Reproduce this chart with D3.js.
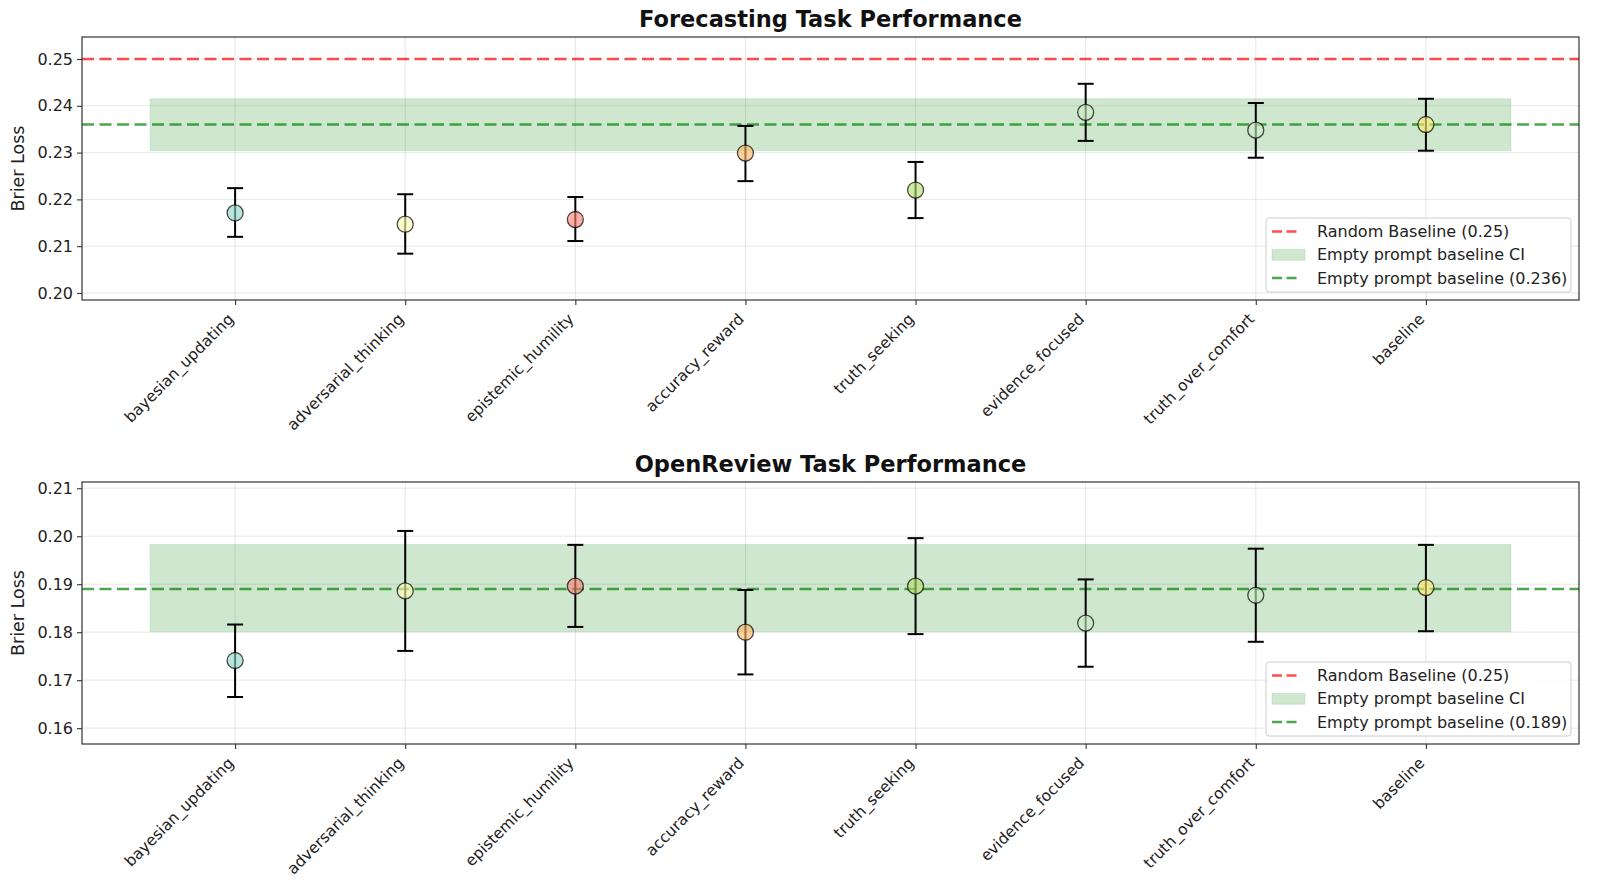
<!DOCTYPE html>
<html>
<head>
<meta charset="utf-8">
<script src="https://cdn.jsdelivr.net/npm/d3@7"></script>
<style>
  body { margin: 0; background: #fff; }
  svg { font-family: "DejaVu Sans", sans-serif; }
</style>
</head>
<body>
<svg id="chart" width="1600" height="884"></svg>
<script>
// strategies, in plotting order
var strategies = ["bayesian_updating", "adversarial_thinking", "epistemic_humility", "accuracy_reward",
                  "truth_seeking", "evidence_focused", "truth_over_comfort", "baseline"];
var pointColors = ["#8dd3c7", "#ffffb3", "#fb8072", "#fdb462", "#b3de69", "#ccebc5", "#ccebc5", "#ffed6f"];

// Forecasting task: mean Brier loss and CI bounds
var forecastMean  = [0.2171, 0.2147, 0.2157, 0.2299, 0.2220, 0.2386, 0.2348, 0.2360];
var forecastLow   = [0.2120, 0.2084, 0.2111, 0.2239, 0.2160, 0.2325, 0.2289, 0.2304];
var forecastHigh  = [0.2224, 0.2211, 0.2205, 0.2357, 0.2280, 0.2447, 0.2406, 0.2415];
var forecastBase  = 0.236, forecastCI = [0.2304, 0.2415];
var forecastTicks = [0.20, 0.21, 0.22, 0.23, 0.24, 0.25];

// OpenReview task
var reviewMean  = [0.1741, 0.1886, 0.1896, 0.1800, 0.1896, 0.1819, 0.1877, 0.1893];
var reviewLow   = [0.1665, 0.1761, 0.1811, 0.1712, 0.1796, 0.1728, 0.1780, 0.1802];
var reviewHigh  = [0.1816, 0.2011, 0.1982, 0.1888, 0.1996, 0.1910, 0.1974, 0.1982];
var reviewBase  = 0.189, reviewCI = [0.1801, 0.1983];
var reviewTicks = [0.16, 0.17, 0.18, 0.19, 0.20, 0.21];

var randomBaseline = 0.25;

var svg = d3.select("#chart");
var left = 82, right = 1579;

function drawPanel(opts) {
  var top = opts.top, bottom = opts.bottom;
  var x = d3.scaleLinear().domain([-0.9, strategies.length - 0.1]).range([left, right]);
  var y = d3.scaleLinear().domain(opts.yDomain).range([bottom, top]);
  var g = svg.append("g");

  g.append("defs").append("clipPath").attr("id", opts.id + "clip")
    .append("rect").attr("x", left).attr("y", top).attr("width", right - left).attr("height", bottom - top);
  var plot = g.append("g").attr("clip-path", "url(#" + opts.id + "clip)");

  // grid
  plot.selectAll(".gy").data(opts.ticks).enter().append("line")
    .attr("x1", left).attr("x2", right)
    .attr("y1", function(d){ return y(d); }).attr("y2", function(d){ return y(d); })
    .attr("stroke", "#b0b0b0").attr("stroke-opacity", 0.3).attr("stroke-width", 1);
  plot.selectAll(".gx").data(strategies).enter().append("line")
    .attr("x1", function(d, i){ return x(i); }).attr("x2", function(d, i){ return x(i); })
    .attr("y1", top).attr("y2", bottom)
    .attr("stroke", "#b0b0b0").attr("stroke-opacity", 0.3).attr("stroke-width", 1);

  // random baseline
  plot.append("line")
    .attr("x1", left).attr("x2", right).attr("y1", y(randomBaseline)).attr("y2", y(randomBaseline))
    .attr("stroke", "red").attr("stroke-opacity", 0.7).attr("stroke-width", 2.5)
    .attr("stroke-dasharray", "12,5.5");

  // empty prompt CI band
  plot.append("rect")
    .attr("x", x(-0.5)).attr("width", x(strategies.length - 0.5) - x(-0.5))
    .attr("y", y(opts.ci[1])).attr("height", y(opts.ci[0]) - y(opts.ci[1]))
    .attr("fill", "green").attr("fill-opacity", 0.19)
    .attr("stroke", "green").attr("stroke-opacity", 0.1);

  // empty prompt baseline
  plot.append("line")
    .attr("x1", left).attr("x2", right).attr("y1", y(opts.base)).attr("y2", y(opts.base))
    .attr("stroke", "green").attr("stroke-opacity", 0.7).attr("stroke-width", 2.5)
    .attr("stroke-dasharray", "12,5.5");

  // error bars
  var eb = plot.selectAll(".eb").data(strategies).enter().append("g");
  eb.append("line")
    .attr("x1", function(d, i){ return x(i); }).attr("x2", function(d, i){ return x(i); })
    .attr("y1", function(d, i){ return y(opts.low[i]); }).attr("y2", function(d, i){ return y(opts.high[i]); })
    .attr("stroke", "#000").attr("stroke-width", 2);
  [opts.low, opts.high].forEach(function(arr){
    eb.append("line")
      .attr("x1", function(d, i){ return x(i) - 8; }).attr("x2", function(d, i){ return x(i) + 8; })
      .attr("y1", function(d, i){ return y(arr[i]); }).attr("y2", function(d, i){ return y(arr[i]); })
      .attr("stroke", "#000").attr("stroke-width", 2);
  });

  // points
  plot.selectAll(".pt").data(strategies).enter().append("circle")
    .attr("cx", function(d, i){ return x(i); })
    .attr("cy", function(d, i){ return y(opts.mean[i]); })
    .attr("r", 8)
    .attr("fill", function(d, i){ return pointColors[i]; }).attr("fill-opacity", 0.62)
    .attr("stroke", "#000").attr("stroke-opacity", 0.7).attr("stroke-width", 1.3);

  // frame
  g.append("rect").attr("x", left).attr("y", top).attr("width", right - left).attr("height", bottom - top)
    .attr("fill", "none").attr("stroke", "#333").attr("stroke-width", 1.2);

  // y axis
  var yAxis = g.append("g").attr("transform", "translate(" + left + ",0)")
    .call(d3.axisLeft(y).tickValues(opts.ticks).tickFormat(d3.format(".2f")).tickSize(5).tickPadding(4));
  yAxis.select(".domain").remove();
  yAxis.selectAll("line").attr("stroke", "#333").attr("stroke-width", 1.1);
  yAxis.selectAll("text").attr("font-size", 16).attr("fill", "#222").attr("font-family", "DejaVu Sans");

  // x axis
  var xAxis = g.append("g").attr("transform", "translate(0," + bottom + ")")
    .call(d3.axisBottom(x).tickValues(d3.range(strategies.length)).tickFormat(function(i){ return strategies[i]; }).tickSize(5));
  xAxis.select(".domain").remove();
  xAxis.selectAll("line").attr("stroke", "#333").attr("stroke-width", 1.1);
  xAxis.selectAll("text")
    .attr("font-size", 15.5).attr("fill", "#222").attr("font-family", "DejaVu Sans")
    .attr("text-anchor", "end").attr("dy", null).attr("y", 0)
    .attr("transform", "translate(-1,20) rotate(-45)");

  // y label
  g.append("text").attr("transform", "translate(24," + ((top + bottom) / 2) + ") rotate(-90)")
    .attr("text-anchor", "middle").attr("font-size", 17.5).attr("fill", "#222").text("Brier Loss");

  // title
  g.append("text").attr("x", (left + right) / 2).attr("y", top - 10)
    .attr("text-anchor", "middle").attr("font-size", 22.5).attr("font-weight", "bold").attr("fill", "#111")
    .text(opts.title);

  // legend
  var lx = 1266, ly = opts.legendTop, lw = 305, lh = 74;
  var lg = g.append("g");
  lg.append("rect").attr("x", lx).attr("y", ly).attr("width", lw).attr("height", lh).attr("rx", 3)
    .attr("fill", "#fff").attr("fill-opacity", 0.8).attr("stroke", "#ccc");
  var items = [
    {label: "Random Baseline (0.25)", kind: "line", color: "red"},
    {label: "Empty prompt baseline CI", kind: "patch", color: "green"},
    {label: "Empty prompt baseline (" + opts.base.toFixed(3) + ")", kind: "line", color: "green"}
  ];
  items.forEach(function(it, k){
    var cy = ly + 13.5 + k * 23.3;
    if (it.kind === "line") {
      lg.append("line").attr("x1", lx + 6).attr("x2", lx + 34).attr("y1", cy).attr("y2", cy)
        .attr("stroke", it.color).attr("stroke-opacity", 0.7).attr("stroke-width", 2.5).attr("stroke-dasharray", "10,4.5");
    } else {
      lg.append("rect").attr("x", lx + 6).attr("y", cy - 5.5).attr("width", 33).attr("height", 11)
        .attr("fill", it.color).attr("fill-opacity", 0.19).attr("stroke", it.color).attr("stroke-opacity", 0.1);
    }
    lg.append("text").attr("x", lx + 51).attr("y", cy).attr("dy", "0.35em")
      .attr("font-size", 16).attr("fill", "#222").text(it.label);
  });
}

drawPanel({id: "fc", top: 37, bottom: 300, yDomain: [0.1985, 0.2547], ticks: forecastTicks,
  mean: forecastMean, low: forecastLow, high: forecastHigh, base: forecastBase, ci: forecastCI,
  title: "Forecasting Task Performance", legendTop: 218});
drawPanel({id: "or", top: 482, bottom: 744, yDomain: [0.1567, 0.2113], ticks: reviewTicks,
  mean: reviewMean, low: reviewLow, high: reviewHigh, base: reviewBase, ci: reviewCI,
  title: "OpenReview Task Performance", legendTop: 662});
</script>
</body>
</html>
